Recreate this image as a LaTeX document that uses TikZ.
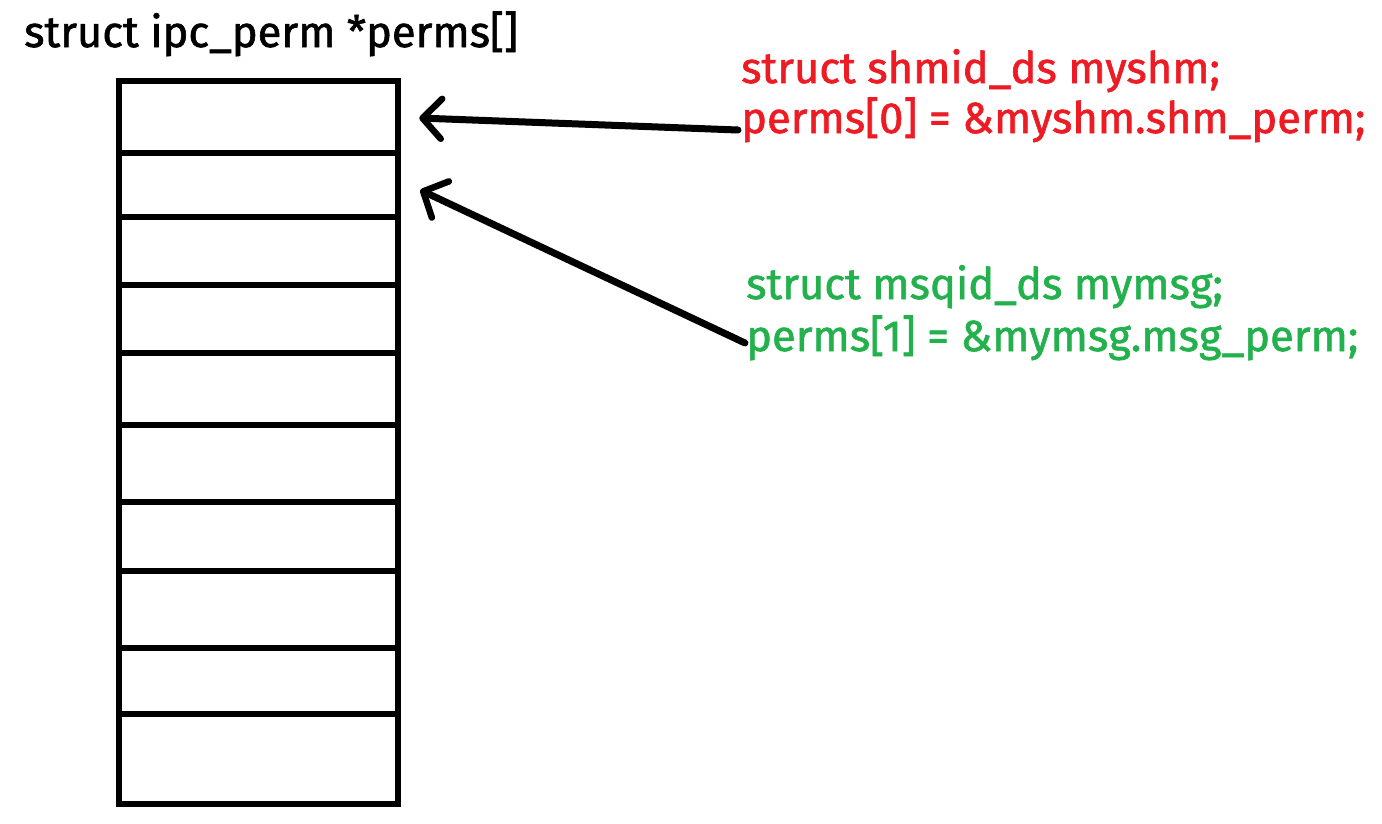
\documentclass[tikz,border=0pt]{standalone}
\usepackage{fontspec}
\setmainfont{Fira Sans}[FakeBold=1.4]
\usetikzlibrary{arrows.meta,calc}
\definecolor{pred}{HTML}{ED1C24}
\definecolor{pgreen}{HTML}{22B14C}
\tikzset{
  cell/.style={draw=black, line width=6.5pt, inner sep=0pt, minimum width=279pt},
  title/.style={anchor=base west, inner sep=0pt, font=\fontsize{43.5}{50}\selectfont},
  code/.style={anchor=base west, inner sep=0pt, font=\fontsize{43.5}{50}\selectfont},
  ptr/.style={line width=7pt, line cap=round, line join=round,
    -{Straight Barb[length=19pt,width=40pt,line width=6.5pt,round]}},
}
\begin{document}
\begin{tikzpicture}[x=1pt,y=-1pt]
\useasboundingbox (0,0) rectangle (1382,823);
\node[title] (t) at (24,47) {struct ipc\_perm *perms[]};
\node[cell, minimum height=72pt] (c0) at (258.5,117) {};
\node[cell, minimum height=64pt] (c1) at (258.5,185) {};
\node[cell, minimum height=68pt] (c2) at (258.5,251) {};
\node[cell, minimum height=68pt] (c3) at (258.5,319) {};
\node[cell, minimum height=72pt] (c4) at (258.5,389) {};
\node[cell, minimum height=77pt] (c5) at (258.5,463.5) {};
\node[cell, minimum height=69pt] (c6) at (258.5,536.5) {};
\node[cell, minimum height=77pt] (c7) at (258.5,609.5) {};
\node[cell, minimum height=66pt] (c8) at (258.5,681) {};
\node[cell, minimum height=90pt] (c9) at (258.5,759) {};
\node[code, text=pred] (r1) at (741,83) {struct shmid\_ds myshm;};
\node[code, text=pred] (r2) at (741,133) {perms[0] = \&myshm.shm\_perm;};
\node[code, text=pgreen] (g1) at (746,299) {struct msqid\_ds mymsg;};
\node[code, text=pgreen] (g2) at (746,351) {perms[1] = \&mymsg.msg\_perm;};
\draw[ptr] ($(r2.base west)+(-3,-3)$) -- ($(c0.east)+(18,1)$);
\draw[ptr] ($(g2.base west)+(-1,-8)$) -- ($(c1.east)+(19,5)$);
\end{tikzpicture}
\end{document}
